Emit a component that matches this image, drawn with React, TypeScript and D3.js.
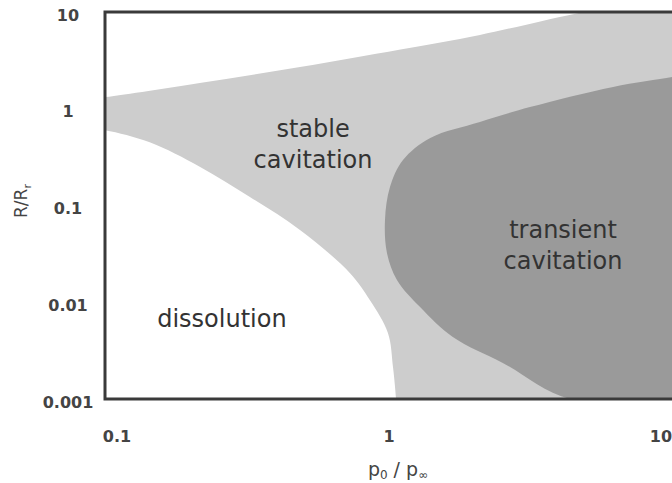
import React, { useEffect, useRef } from 'react';
import * as d3 from 'd3';

// boundary curves, [p0/pinf, R/Rr]
const stableTop: [number, number][] = [
  [0.08, 1.25], [0.1, 1.32], [0.223, 1.85], [0.521, 2.7], [1.22, 4.1], [2.39, 5.8], [5.26, 9.5], [7.8, 11.5], [14, 14]
];
const dissolutionEdge: [number, number][] = [
  [0.08, 0.64], [0.1, 0.6], [0.146, 0.45], [0.223, 0.252], [0.341, 0.1225], [0.521, 0.0558], [0.796, 0.02],
  [0.942, 0.0105], [1.097, 0.00481], [1.145, 0.00214], [1.175, 0.001], [1.18, 0.0008]
];
const transientEdge: [number, number][] = [
  [14, 2.3], [12.2, 2.13], [7.38, 1.68], [3.65, 1.04], [2.39, 0.73], [1.57, 0.499], [1.246, 0.295],
  [1.116, 0.155], [1.07, 0.0708], [1.088, 0.0323], [1.184, 0.017], [1.44, 0.00893], [1.9, 0.00438],
  [2.9, 0.00236], [5.13, 0.001], [14, 0.001]
];
const xTicks = [0.1, 1, 10];
const yTicks = [0.001, 0.01, 0.1, 1, 10];
const regionLabels = [
  { lines: ['stable', 'cavitation'], x: 0.582, y: 0.511 },
  { lines: ['transient', 'cavitation'], x: 4.83, y: 0.0461 },
  { lines: ['dissolution'], x: 0.269, y: 0.00555 }
];

const W = 672;
const H = 483;

export default function App() {
  const ref = useRef<SVGSVGElement>(null);

  useEffect(() => {
    document.body.style.margin = '0';
    const svg = d3.select(ref.current);
    svg.selectAll('*').remove();

    const left = 105, top = 12, bottom = 399;
    const x = d3.scaleLog().domain([0.1, 10]).range([left, left + 544]);
    const y = d3.scaleLog().domain([0.001, 10]).range([bottom, top]);
    const right = W + 20;

    svg.append('defs').append('clipPath').attr('id', 'plotClip')
      .append('rect').attr('x', left).attr('y', top).attr('width', right - left).attr('height', bottom - top);

    const g = svg.append('g').attr('clip-path', 'url(#plotClip)');

    // stable cavitation band (everything under the upper curve)
    const upper = d3.area<[number, number]>()
      .x(d => x(d[0])).y0(bottom + 5).y1(d => y(d[1]))
      .curve(d3.curveCatmullRom.alpha(0.5));
    g.append('path').datum(stableTop).attr('d', upper).attr('fill', '#cdcdcd');

    // dissolution (white) region
    const diss = d3.area<[number, number]>()
      .x(d => x(d[0])).y0(bottom + 5).y1(d => y(d[1]))
      .curve(d3.curveCatmullRom.alpha(0.5));
    g.append('path').datum(dissolutionEdge).attr('d', diss).attr('fill', '#ffffff');

    // transient cavitation
    const line = d3.line<[number, number]>()
      .x(d => x(d[0])).y(d => y(d[1]))
      .curve(d3.curveCatmullRom.alpha(0.5));
    g.append('path').datum(transientEdge).attr('d', (d) => line(d) + 'Z').attr('fill', '#9a9a9a');

    // frame
    svg.append('path')
      .attr('d', `M${right},${top}H${left}V${bottom}H${right}`)
      .attr('fill', 'none').attr('stroke', '#3a3a3a').attr('stroke-width', 3);

    const font = 'DejaVu Sans, Verdana, sans-serif';

    svg.selectAll('.xt').data(xTicks).enter().append('text')
      .attr('x', d => x(d) + 12).attr('y', 442)
      .attr('text-anchor', 'middle').attr('font-family', font).attr('font-size', 16)
      .attr('font-weight', 'bold').attr('fill', '#444').text(d => String(d));

    svg.selectAll('.yt').data(yTicks).enter().append('text')
      .attr('x', 68).attr('y', d => y(d) + 3).attr('dy', '0.35em')
      .attr('text-anchor', 'middle').attr('font-family', font).attr('font-size', 16)
      .attr('font-weight', 'bold').attr('fill', '#444').text(d => String(d));

    // axis titles
    const xl = svg.append('text').attr('x', 398).attr('y', 476)
      .attr('text-anchor', 'middle').attr('font-family', font).attr('font-size', 19).attr('fill', '#444');
    xl.append('tspan').text('p');
    xl.append('tspan').attr('font-size', 12).attr('dy', 3).text('0');
    xl.append('tspan').attr('dy', -3).text(' / p');
    xl.append('tspan').attr('font-size', 12).attr('dy', 3).text('∞');

    const yl = svg.append('text').attr('transform', 'translate(27,201) rotate(-90)')
      .attr('text-anchor', 'middle').attr('font-family', font).attr('font-size', 17).attr('fill', '#444');
    yl.append('tspan').text('R/R');
    yl.append('tspan').attr('font-size', 11).attr('dy', 4).text('r');

    // region labels
    regionLabels.forEach(l => {
      const t = svg.append('text').attr('text-anchor', 'middle')
        .attr('font-family', font).attr('font-size', 24).attr('fill', '#333');
      l.lines.forEach((s, i) => {
        t.append('tspan').attr('x', x(l.x)).attr('y', y(l.y) + i * 31).text(s);
      });
    });
  }, []);

  return <svg ref={ref} width={W} height={H} style={{ display: 'block', background: '#fff' }} />;
}
